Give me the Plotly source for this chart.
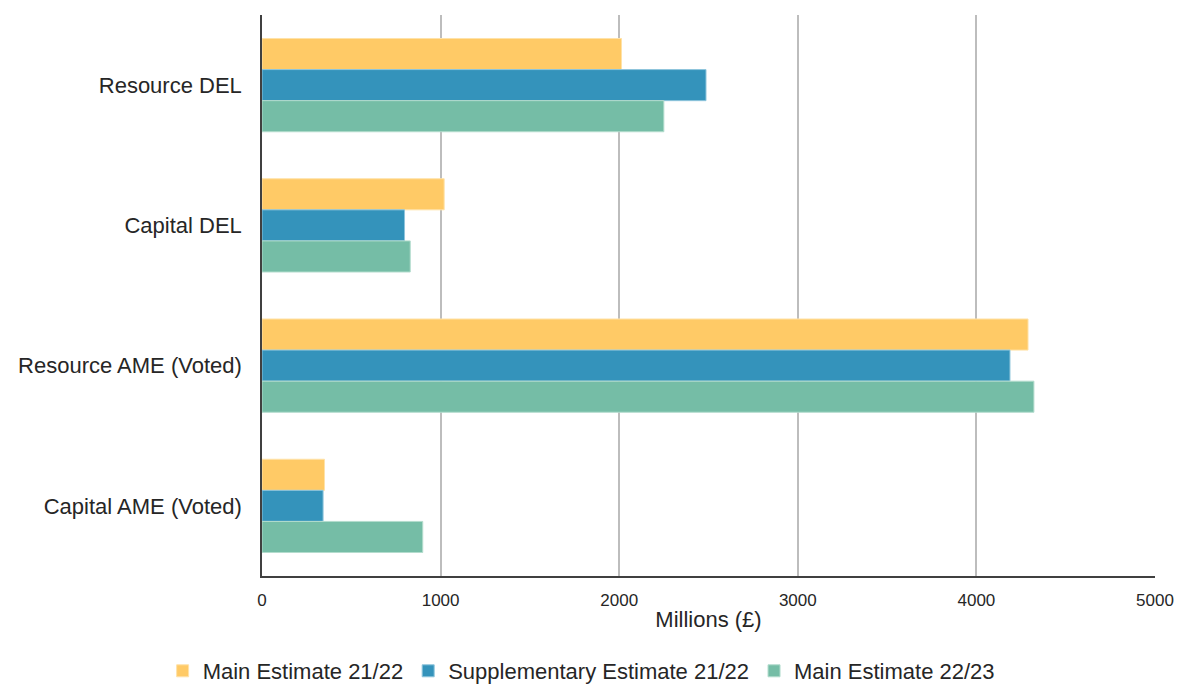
import plotly.graph_objects as go

categories = ["Resource DEL", "Capital DEL", "Resource AME (Voted)", "Capital AME (Voted)"]
series_names = ["Main Estimate 21/22", "Supplementary Estimate 21/22", "Main Estimate 22/23"]
main_2122 = [2013, 1020, 4289, 350]
supp_2122 = [2486, 798, 4188, 342]
main_2223 = [2250, 830, 4322, 900]
x_ticks = [0, 1000, 2000, 3000, 4000, 5000]

colors = ["#FFCA66", "#3493BB", "#75BDA6"]
edge = ["#FFE2A8", "#8FC5DC", "#B3DCCD"]
values = [main_2122, supp_2122, main_2223]

fig = go.Figure()
for name, vals, c, e in zip(series_names, values, colors, edge):
    fig.add_trace(go.Bar(
        y=categories, x=vals, name=name, orientation="h",
        marker=dict(color=c, line=dict(color=e, width=1)),
    ))

fig.update_layout(
    barmode="group",
    bargap=0.335,
    bargroupgap=0,
    width=1186, height=692,
    margin=dict(l=262, r=28, t=15, b=116),
    paper_bgcolor="white", plot_bgcolor="white",
    font=dict(family="Liberation Sans, Arial, sans-serif", color="#262626"),
    legend=dict(
        orientation="h", xref="container", yref="container",
        x=0.49, xanchor="center", y=-0.012, yanchor="bottom",
        font=dict(size=22, color="#262626"), traceorder="normal",
        itemwidth=30,
    ),
    xaxis=dict(
        range=[0, 5000], tickvals=x_ticks, ticktext=[str(t) for t in x_ticks],
        showgrid=True, gridcolor="#BDBDBD", gridwidth=1.5,
        zeroline=False, showline=True, linecolor="#404040", linewidth=1.5,
        tickfont=dict(size=17, color="#262626"), ticks="", ticklabelstandoff=8,
        title=dict(text="Millions (£)", font=dict(size=22, color="#262626"), standoff=2),
    ),
    yaxis=dict(
        autorange="reversed", showgrid=False, zeroline=False,
        showline=True, linecolor="#404040", linewidth=1.5,
        tickfont=dict(size=22, color="#262626"), ticks="", ticklabelstandoff=14,
    ),
)

fig.write_html("out.html")
